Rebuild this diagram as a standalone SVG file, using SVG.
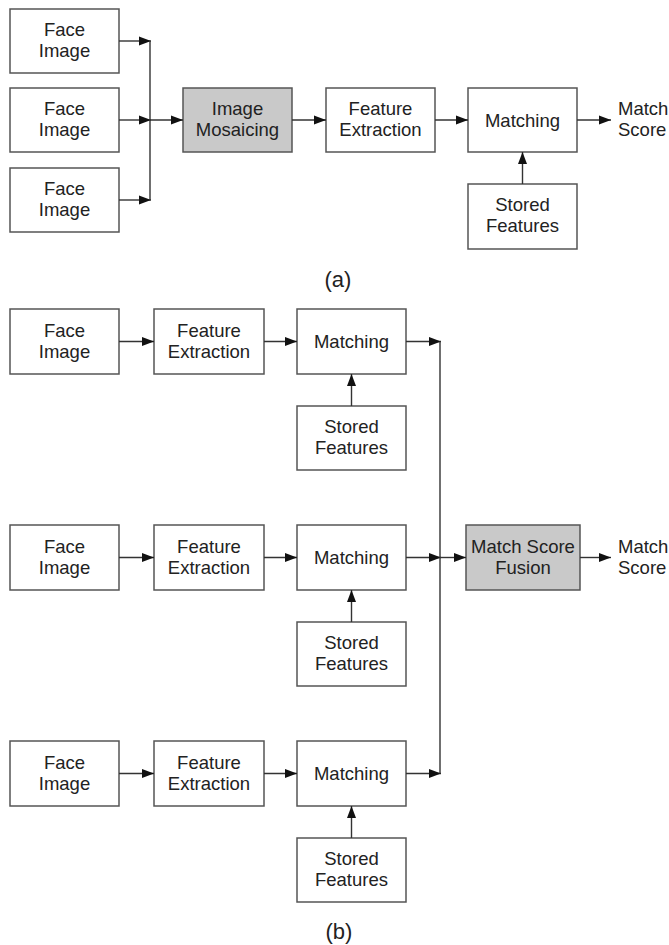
<svg xmlns="http://www.w3.org/2000/svg" width="669" height="945" viewBox="0 0 669 945">
  <style>
    .box { fill: #ffffff; stroke: #555555; stroke-width: 1.5; }
    .gray { fill: #c9c9c9; stroke: #555555; stroke-width: 1.5; }
    .lbl { font-family: "Liberation Sans", Arial, sans-serif; font-size: 18.5px; fill: #222222; text-anchor: middle; }
    .out { font-family: "Liberation Sans", Arial, sans-serif; font-size: 18.5px; fill: #222222; }
    .cap { font-family: "Liberation Sans", Arial, sans-serif; font-size: 22px; fill: #222222; text-anchor: middle; }
    .wire { fill: none; stroke: #333333; stroke-width: 1.4; }
  </style>
  <defs>
    <marker id="arrow" markerUnits="userSpaceOnUse" markerWidth="13" markerHeight="11" refX="12" refY="5.5" orient="auto">
      <path d="M0,1 L12,5.5 L0,10 Z" fill="#111111"/>
    </marker>
  </defs>
  <rect width="669" height="945" fill="#ffffff"/>

  <!-- (a) image-level fusion -->
  <g id="a-face1"><rect class="box" x="10" y="9" width="109" height="64"/>
    <text class="lbl" x="64.5" y="36">Face</text><text class="lbl" x="64.5" y="57">Image</text></g>
  <g id="a-face2"><rect class="box" x="10" y="88" width="109" height="64"/>
    <text class="lbl" x="64.5" y="115">Face</text><text class="lbl" x="64.5" y="136">Image</text></g>
  <g id="a-face3"><rect class="box" x="10" y="168" width="109" height="64"/>
    <text class="lbl" x="64.5" y="195">Face</text><text class="lbl" x="64.5" y="216">Image</text></g>
  <g id="a-mosaic"><rect class="gray" x="183" y="88" width="109" height="64"/>
    <text class="lbl" x="237.5" y="115">Image</text><text class="lbl" x="237.5" y="136">Mosaicing</text></g>
  <g id="a-extract"><rect class="box" x="326" y="88" width="109" height="64"/>
    <text class="lbl" x="380.5" y="115">Feature</text><text class="lbl" x="380.5" y="136">Extraction</text></g>
  <g id="a-match"><rect class="box" x="468" y="88" width="109" height="64"/>
    <text class="lbl" x="522.5" y="126.5">Matching</text></g>
  <g id="a-stored"><rect class="box" x="468" y="184" width="109" height="65"/>
    <text class="lbl" x="522.5" y="211">Stored</text><text class="lbl" x="522.5" y="232">Features</text></g>
  <g id="a-score"><text class="out" x="618" y="115">Match</text><text class="out" x="618" y="136">Score</text></g>
  <text class="cap" x="338" y="287">(a)</text>

  <!-- (b) score-level fusion -->
  <g id="b-face1"><rect class="box" x="10" y="309" width="109" height="65"/>
    <text class="lbl" x="64.5" y="336.5">Face</text><text class="lbl" x="64.5" y="357.5">Image</text></g>
  <g id="b-extract1"><rect class="box" x="154" y="309" width="110" height="65"/>
    <text class="lbl" x="209" y="336.5">Feature</text><text class="lbl" x="209" y="357.5">Extraction</text></g>
  <g id="b-match1"><rect class="box" x="297" y="309" width="109" height="65"/>
    <text class="lbl" x="351.5" y="348">Matching</text></g>
  <g id="b-stored1"><rect class="box" x="297" y="406" width="109" height="64"/>
    <text class="lbl" x="351.5" y="433">Stored</text><text class="lbl" x="351.5" y="454">Features</text></g>

  <g id="b-face2"><rect class="box" x="10" y="525" width="109" height="65"/>
    <text class="lbl" x="64.5" y="552.5">Face</text><text class="lbl" x="64.5" y="573.5">Image</text></g>
  <g id="b-extract2"><rect class="box" x="154" y="525" width="110" height="65"/>
    <text class="lbl" x="209" y="552.5">Feature</text><text class="lbl" x="209" y="573.5">Extraction</text></g>
  <g id="b-match2"><rect class="box" x="297" y="525" width="109" height="65"/>
    <text class="lbl" x="351.5" y="564">Matching</text></g>
  <g id="b-stored2"><rect class="box" x="297" y="622" width="109" height="64"/>
    <text class="lbl" x="351.5" y="649">Stored</text><text class="lbl" x="351.5" y="670">Features</text></g>

  <g id="b-face3"><rect class="box" x="10" y="741" width="109" height="65"/>
    <text class="lbl" x="64.5" y="768.5">Face</text><text class="lbl" x="64.5" y="789.5">Image</text></g>
  <g id="b-extract3"><rect class="box" x="154" y="741" width="110" height="65"/>
    <text class="lbl" x="209" y="768.5">Feature</text><text class="lbl" x="209" y="789.5">Extraction</text></g>
  <g id="b-match3"><rect class="box" x="297" y="741" width="109" height="65"/>
    <text class="lbl" x="351.5" y="780">Matching</text></g>
  <g id="b-stored3"><rect class="box" x="297" y="838" width="109" height="64"/>
    <text class="lbl" x="351.5" y="865">Stored</text><text class="lbl" x="351.5" y="886">Features</text></g>

  <g id="b-fusion"><rect class="gray" x="466" y="525" width="114" height="65"/>
    <text class="lbl" x="523" y="552.5">Match Score</text><text class="lbl" x="523" y="573.5">Fusion</text></g>
  <g id="b-score"><text class="out" x="618" y="552.5">Match</text><text class="out" x="618" y="573.5">Score</text></g>
  <text class="cap" x="339" y="939">(b)</text>

  <g id="connectors">
    <!-- (a) -->
    <line class="wire" x1="119" y1="41" x2="151" y2="41" marker-end="url(#arrow)"/>
    <line class="wire" x1="119" y1="120" x2="151" y2="120" marker-end="url(#arrow)"/>
    <line class="wire" x1="119" y1="200" x2="151" y2="200" marker-end="url(#arrow)"/>
    <line class="wire" x1="150" y1="41" x2="150" y2="200"/>
    <line class="wire" x1="150" y1="120" x2="183" y2="120" marker-end="url(#arrow)"/>
    <line class="wire" x1="292" y1="120" x2="326" y2="120" marker-end="url(#arrow)"/>
    <line class="wire" x1="435" y1="120" x2="468" y2="120" marker-end="url(#arrow)"/>
    <line class="wire" x1="522.5" y1="184" x2="522.5" y2="152" marker-end="url(#arrow)"/>
    <line class="wire" x1="577" y1="120" x2="611" y2="120" marker-end="url(#arrow)"/>
    <!-- (b) row 1 -->
    <line class="wire" x1="119" y1="341.5" x2="154" y2="341.5" marker-end="url(#arrow)"/>
    <line class="wire" x1="264" y1="341.5" x2="297" y2="341.5" marker-end="url(#arrow)"/>
    <line class="wire" x1="406" y1="341.5" x2="441" y2="341.5" marker-end="url(#arrow)"/>
    <line class="wire" x1="351.5" y1="406" x2="351.5" y2="374" marker-end="url(#arrow)"/>
    <!-- (b) row 2 -->
    <line class="wire" x1="119" y1="557.5" x2="154" y2="557.5" marker-end="url(#arrow)"/>
    <line class="wire" x1="264" y1="557.5" x2="297" y2="557.5" marker-end="url(#arrow)"/>
    <line class="wire" x1="406" y1="557.5" x2="441" y2="557.5" marker-end="url(#arrow)"/>
    <line class="wire" x1="351.5" y1="622" x2="351.5" y2="590" marker-end="url(#arrow)"/>
    <!-- (b) row 3 -->
    <line class="wire" x1="119" y1="773.5" x2="154" y2="773.5" marker-end="url(#arrow)"/>
    <line class="wire" x1="264" y1="773.5" x2="297" y2="773.5" marker-end="url(#arrow)"/>
    <line class="wire" x1="406" y1="773.5" x2="441" y2="773.5" marker-end="url(#arrow)"/>
    <line class="wire" x1="351.5" y1="838" x2="351.5" y2="806" marker-end="url(#arrow)"/>
    <!-- (b) fusion -->
    <line class="wire" x1="440" y1="341.5" x2="440" y2="773.5"/>
    <line class="wire" x1="440" y1="557.5" x2="466" y2="557.5" marker-end="url(#arrow)"/>
    <line class="wire" x1="580" y1="557.5" x2="611" y2="557.5" marker-end="url(#arrow)"/>
  </g>
</svg>
